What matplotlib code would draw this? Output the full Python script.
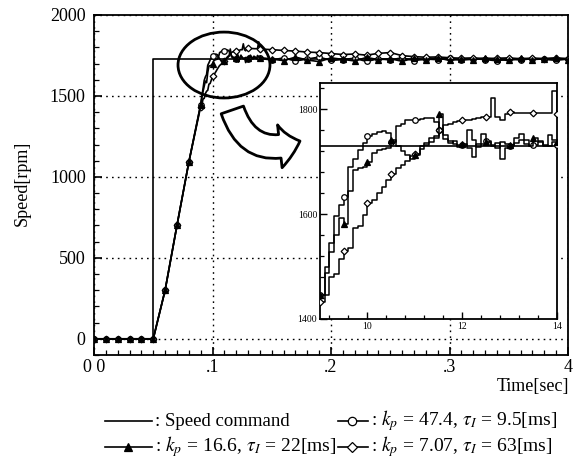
import numpy as np
import matplotlib
matplotlib.use("Agg")
import matplotlib.pyplot as plt
from matplotlib.patches import Ellipse, FancyArrowPatch
from matplotlib.ticker import MultipleLocator, FixedLocator

plt.rcParams['font.family'] = ['Liberation Serif', 'DejaVu Serif']
plt.rcParams['mathtext.fontset'] = 'stix'

# ---- data -------------------------------------------------------------
# speed command (rpm), applied at t = 0.05 s
cmd_level = 1730
t_step = 0.05

# start-up portion shared by the three responses (s, rpm)
t_ramp = [0.00, 0.01, 0.02, 0.03, 0.04, 0.05, 0.06, 0.07, 0.08]
w_ramp = [0, 0, 0, 0, 0, 0, 300, 700, 1090]

# close-up window, time in units of 10 ms (9.0 ... 14.0)
u_zoom = np.round(np.arange(90, 141) / 10, 1)

w_kp47 = [1446, 1500, 1545, 1596, 1618, 1632, 1690, 1705, 1722, 1736,
          1748, 1752, 1757, 1758, 1755, 1738, 1768, 1772, 1779, 1779,
          1780, 1782, 1783, 1783, 1776, 1760, 1750, 1740, 1733, 1728,
          1731, 1760, 1742, 1728, 1734, 1740, 1731, 1727, 1738, 1733,
          1729, 1736, 1742, 1734, 1729, 1732, 1740, 1731, 1729, 1737,
          1732]
w_kp16 = [1446, 1488, 1528, 1560, 1592, 1582, 1645, 1685, 1687, 1690,
          1700, 1717, 1722, 1725, 1727, 1741, 1729, 1720, 1712, 1706,
          1713, 1729, 1736, 1745, 1748, 1790, 1743, 1735, 1740, 1731,
          1733, 1727, 1709, 1734, 1752, 1738, 1730, 1735, 1706, 1727,
          1732, 1745, 1752, 1741, 1730, 1746, 1738, 1730, 1750, 1741,
          1737]
w_kp7 = [1433, 1445, 1481, 1485, 1515, 1529, 1535, 1573, 1577, 1598,
         1621, 1626, 1640, 1652, 1665, 1677, 1688, 1694, 1702, 1711,
         1715, 1725, 1732, 1738, 1746, 1760, 1769, 1772, 1775, 1777,
         1779, 1780, 1781, 1783, 1786, 1785, 1822, 1785, 1779, 1790,
         1794, 1793, 1792, 1792, 1793, 1792, 1792, 1792, 1793, 1834,
         1790]

# remaining record (s, rpm)
t_tail = [0.15, 0.16, 0.17, 0.18, 0.19, 0.20, 0.21, 0.22, 0.23, 0.24,
          0.25, 0.26, 0.27, 0.28, 0.29, 0.30, 0.31, 0.32, 0.33, 0.34,
          0.35, 0.36, 0.37, 0.38, 0.39, 0.40]
tail_kp47 = [1722, 1735, 1716, 1728, 1740, 1719, 1725, 1733, 1713, 1730,
             1722, 1736, 1718, 1728, 1724, 1733, 1720, 1730, 1725, 1717,
             1728, 1722, 1731, 1726, 1720, 1728]
tail_kp16 = [1728, 1718, 1740, 1722, 1712, 1735, 1726, 1716, 1738, 1724,
             1730, 1714, 1733, 1722, 1736, 1719, 1728, 1724, 1734, 1726,
             1719, 1733, 1725, 1729, 1733, 1725]
tail_kp7 = [1786, 1781, 1777, 1771, 1768, 1762, 1756, 1759, 1752, 1763,
            1768, 1749, 1743, 1739, 1741, 1736, 1733, 1735, 1731, 1733,
            1735, 1730, 1734, 1731, 1735, 1731]

x_ticklabels = ['0 0', '.1', '.2', '.3', '4']

# (close-up data, remaining data, marker style, key text, layer)
series = [
    (w_kp47, tail_kp47, dict(marker='o', mfc='white', ms=4.0),
     r': $k_p$ = 47.4, $\tau_I$ = 9.5[ms]', 4),
    (w_kp16, tail_kp16, dict(marker='^', mfc='black', ms=4.2),
     r': $k_p$ = 16.6, $\tau_I$ = 22[ms]', 5),
    (w_kp7, tail_kp7, dict(marker='D', mfc='white', ms=3.4),
     r': $k_p$ = 7.07, $\tau_I$ = 63[ms]', 4),
]

# ---- figure ------------------------------------------------------------
W, H = 575, 463
fig = plt.figure(figsize=(W / 100, H / 100), dpi=100)

ax = fig.add_axes([94 / W, 1 - 355 / H, (568 - 94) / W, (355 - 15) / H])
ax.set_xlim(0, 0.4)
ax.set_ylim(-100, 2000)

# speed command
ax.plot([0, t_step, t_step, 0.4], [0, 0, cmd_level, cmd_level],
        color='black', lw=1.2, zorder=3)

n_r = len(t_ramp)
n_z = len(u_zoom)
for wz, tail, st, _, z in series:
    t = np.concatenate([t_ramp, u_zoom / 100, t_tail])
    w = np.concatenate([w_ramp, wz, tail])
    marks = (list(range(n_r)) + [n_r + i for i in range(0, n_z, 10)]
             + [n_r + n_z + i for i in range(len(t_tail))])
    ax.plot(t, w, color='black', lw=1.2, mec='black', mew=0.9,
            markevery=marks, zorder=z, **st)

ax.set_xticks([0, 0.1, 0.2, 0.3, 0.4])
ax.set_xticklabels(x_ticklabels)
ax.xaxis.set_minor_locator(MultipleLocator(0.01))
ax.yaxis.set_major_locator(MultipleLocator(500))
ax.yaxis.set_minor_locator(MultipleLocator(100))
ax.tick_params(which='both', direction='in', labelsize=13)
ax.tick_params(axis='x', pad=3)
ax.tick_params(axis='y', pad=6)
ax.tick_params(which='major', length=6, width=1.2)
ax.tick_params(which='minor', length=3.5, width=0.9)
ax.grid(True, which='major', color='black', lw=1.0, ls=(0, (1.2, 3)))
for s in ax.spines.values():
    s.set_linewidth(1.3)

# highlighted region and pointer
ax.add_patch(Ellipse((0.1097, 1691), 0.0776, 407, fill=False,
                     lw=2.0, ec='black', zorder=6, clip_on=False))
ax.add_patch(FancyArrowPatch(
    posA=(0.1160, 1430), posB=(0.1760, 1228),
    arrowstyle='simple,head_width=31,head_length=15,tail_width=17',
    connectionstyle='arc3,rad=0.55', fc='white', ec='black', lw=2.0,
    zorder=6, clip_on=False))

# ---- close-up --------------------------------------------------------------
ins = fig.add_axes([320 / W, 1 - 319 / H, 237 / W, 236 / H])
ins.set_facecolor('white')
ins.set_xlim(9, 14)
ins.set_ylim(1400, 1850)
ins.axhline(cmd_level, color='black', lw=1.2, zorder=3)
for wz, _, st, _, z in series:
    ins.plot(u_zoom, wz, color='black', lw=1.1, drawstyle='steps-post',
             mec='black', mew=0.9, markevery=5, zorder=z, **st)
ins.xaxis.set_major_locator(FixedLocator([10, 12, 14]))
ins.xaxis.set_minor_locator(MultipleLocator(0.4))
ins.yaxis.set_major_locator(FixedLocator([1400, 1600, 1800]))
ins.yaxis.set_minor_locator(MultipleLocator(40))
ins.tick_params(which='both', direction='in', labelsize=7, pad=2)
ins.tick_params(which='major', length=5, width=1.0)
ins.tick_params(which='minor', length=3, width=0.9)
for s in ins.spines.values():
    s.set_linewidth(1.3)

# ---- axis titles -------------------------------------------------------
fig.text(22 / W, 1 - 183 / H, 'Speed[rpm]', rotation=90,
         ha='center', va='center', fontsize=13)
fig.text(569 / W, 1 - 386 / H, 'Time[sec]', ha='right', va='center',
         fontsize=13)

# ---- key ---------------------------------------------------------------
key = fig.add_axes([0, 0, 1, 1])
key.set_xlim(0, W)
key.set_ylim(H, 0)
key.axis('off')
key.patch.set_alpha(0)

key.plot([105, 152], [421, 421], color='black', lw=1.2)
key.text(155, 421, ': Speed command', va='center', ha='left', fontsize=13.5)

rows = [(338, 368, 352, 421, 0), (105, 152, 128, 447, 1), (338, 368, 352, 447, 2)]
for x0, x1, xm, y, i in rows:
    st = series[i][2]
    key.plot([x0, x1], [y, y], color='black', lw=1.2)
    key.plot([xm], [y], color='black', mec='black', mew=0.9,
             **{k: (v + 2.0 if k == 'ms' else v) for k, v in st.items()})
    key.text(x1 + 3, y, series[i][3], va='center', ha='left', fontsize=14)

fig.savefig('out.png', dpi=100)
